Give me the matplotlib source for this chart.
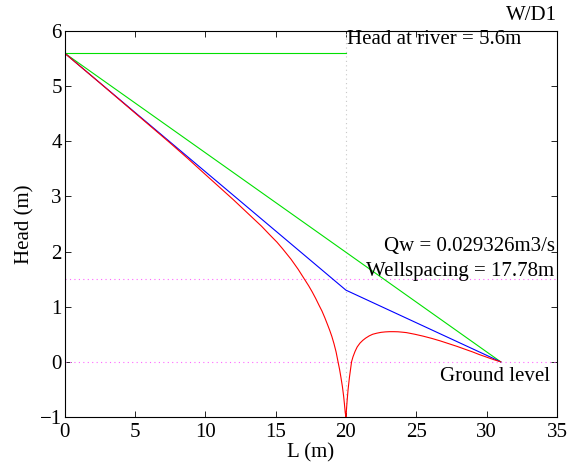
import matplotlib
matplotlib.use("Agg")
import matplotlib.pyplot as plt

plt.rcParams['font.family'] = ['Liberation Serif', 'DejaVu Serif']
plt.rcParams['font.size'] = 15

# head profiles along the section (m)
lin_x = [0, 31]
lin_h = [5.6, 0.0]

blue_x = [0, 20, 31]
blue_h = [5.6, 1.3, 0.0]

red_x = [0, 2.5, 5, 7.5, 8.75, 10, 11, 12, 13, 14, 14.6, 15.1, 15.5, 16.1, 16.6,
         16.85, 17.1, 17.35, 17.6, 17.85, 18.1, 18.3, 18.5, 18.7, 18.85, 19.0, 19.15,
         19.3, 19.44, 19.55, 19.65, 19.75, 19.84, 19.9, 19.95, 20.0,
         20.04, 20.08, 20.15, 20.25, 20.4, 20.5, 20.65, 20.8, 21.0, 21.2, 21.4, 21.65,
         21.9, 22.2, 22.5, 22.8, 23.1, 23.4, 23.7, 24.0, 24.3, 24.9, 25.5, 26.1, 26.7,
         27.3, 27.9, 28.5, 29.0, 29.5, 30.0, 30.5, 31.0]
red_h = [5.6, 5.06, 4.515, 3.97, 3.69, 3.40, 3.17, 2.94, 2.70, 2.46, 2.30, 2.17, 2.05, 1.86, 1.68,
         1.58, 1.48, 1.38, 1.27, 1.15, 1.02, 0.92, 0.80, 0.67, 0.57, 0.46, 0.33,
         0.18, 0.0, -0.14, -0.29, -0.45, -0.63, -0.78, -0.92, -1.0,
         -0.86, -0.72, -0.51, -0.28, 0.0, 0.09, 0.19, 0.27, 0.34, 0.39, 0.43, 0.47,
         0.50, 0.52, 0.535, 0.543, 0.547, 0.547, 0.545, 0.538, 0.53, 0.50, 0.465, 0.425, 0.38,
         0.33, 0.28, 0.225, 0.18, 0.13, 0.085, 0.04, 0.0]

river_head = 5.6
well_x = 20
limit_levels = [1.5, 0.0]

fig = plt.figure(figsize=(5.68, 4.66), dpi=100)
ax = fig.add_axes([0.1136, 0.1052, 0.867, 0.8283])

ax.plot([0, well_x], [river_head, river_head], color='#00e000', lw=0.8)
ax.plot([well_x, well_x], [-1, 6], color='#c8c8c8', lw=0.8, ls=(0, (1, 3)))
for lev in limit_levels:
    ax.plot([0, 35], [lev, lev], color='#ff66ff', lw=0.8, ls=(0, (1, 3)))

ax.plot(lin_x, lin_h, color='#00e000', lw=0.8)
ax.plot(blue_x, blue_h, color='#0000ff', lw=0.8)
ax.plot(red_x, red_h, color='#ff0000', lw=0.8)

ax.set_xlim(0, 35)
ax.set_ylim(-1, 6)
ax.set_xticks(range(0, 36, 5))
ax.set_yticks(range(-1, 7))
ax.tick_params(direction='in', top=True, right=True, length=4, width=0.6,
               labelsize=15)
ax.tick_params(axis='x', pad=4)
ax.tick_params(axis='y', pad=2)
for s in ax.spines.values():
    s.set_linewidth(0.8)

ax.set_xlabel('L (m)', fontsize=15, labelpad=1)
ax.set_ylabel('Head (m)', fontsize=15, labelpad=4)
ax.set_title('W/D1', loc='right', fontsize=15, pad=8)

ax.text(20.05, 5.84, 'Head at river = 5.6m', fontsize=15, va='center')
ax.text(22.7, 2.1, 'Qw = 0.029326m3/s', fontsize=15, va='center')
ax.text(21.4, 1.63, 'Wellspacing = 17.78m', fontsize=15, va='center')
ax.text(26.7, -0.26, 'Ground level', fontsize=15, va='center')

fig.savefig('out.png', dpi=100)
